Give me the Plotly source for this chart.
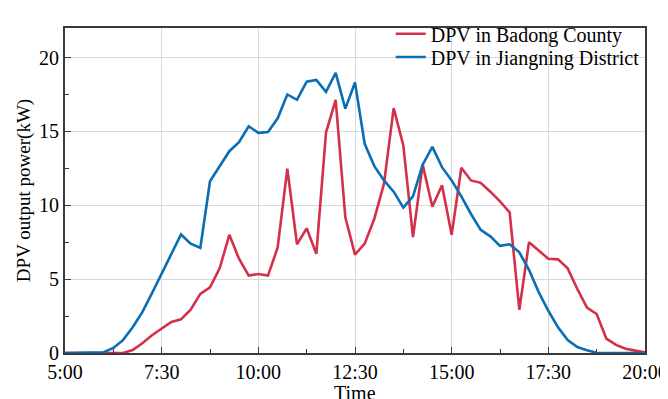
import plotly.graph_objects as go

# 15-minute samples from 5:00 to 20:00 (61 points)
hours = [5 + 0.25 * i for i in range(61)]

badong = [0, 0, 0, 0, 0, 0, 0, 0.2, 0.66, 1.2,
          1.63, 2.1, 2.28, 2.93, 4.0, 4.44, 5.73, 8.0, 6.38, 5.24,
          5.35, 5.24, 7.14, 12.48, 7.36, 8.44, 6.71, 14.92, 17.14, 9.19,
          6.66, 7.4, 9.09, 11.46, 16.58, 14.05, 7.85, 12.75, 9.9, 11.35,
          8.0, 12.54, 11.68, 11.52, 10.92, 10.27, 9.51, 2.93, 7.5, 6.92,
          6.38, 6.34, 5.73, 4.33, 3.08, 2.64, 0.98, 0.55, 0.29, 0.16,
          0.05]

jiangning = [0, 0, 0, 0, 0.05, 0.34, 0.87, 1.74, 2.77, 4.05,
             5.35, 6.66, 8.02, 7.4, 7.12, 11.63, 12.65, 13.66, 14.27, 15.35,
             14.9, 14.96, 15.89, 17.5, 17.14, 18.37, 18.48, 17.68, 18.96, 16.54,
             18.31, 14.16, 12.65, 11.68, 10.92, 9.84, 10.6, 12.75, 13.95, 12.58,
             11.68, 10.6, 9.41, 8.33, 7.9, 7.25, 7.36, 6.82, 5.63, 4.12,
             2.86, 1.74, 0.87, 0.4, 0.18, 0.02, 0, 0, 0, 0,
             0]

tick_vals = [5, 7.5, 10, 12.5, 15, 17.5, 20]
tick_text = ["5:00", "7:30", "10:00", "12:30", "15:00", "17:30", "20:00"]

FONT = "Liberation Serif"

fig = go.Figure()
fig.add_trace(go.Scatter(x=hours, y=badong, mode="lines", name="DPV in Badong County",
                         line=dict(color="#D3304A", width=2.6), legend="legend"))
fig.add_trace(go.Scatter(x=hours, y=jiangning, mode="lines", name="DPV in Jiangning District",
                         line=dict(color="#0A6EB4", width=2.6), legend="legend2"))

axis_common = dict(
    showline=True, linecolor="#3a3a3a", linewidth=1.8, mirror=True,
    ticks="inside", ticklen=6, tickwidth=1.3, tickcolor="#3a3a3a",
    showgrid=True, gridcolor="#d9d9d9", gridwidth=1,
    zeroline=False, automargin=False,
    tickfont=dict(family=FONT, size=20, color="black"),
)

fig.update_xaxes(
    range=[5, 20], tickmode="array", tickvals=tick_vals, ticktext=tick_text,
    minor=dict(ticks="inside", ticklen=4, tickwidth=1.2, tickcolor="#3a3a3a",
               tick0=5, dtick=1.25, showgrid=False),
    **axis_common,
)
fig.update_yaxes(
    range=[0, 22], tickmode="linear", tick0=0, dtick=5,
    minor=dict(ticks="inside", ticklen=4, tickwidth=1.2, tickcolor="#3a3a3a",
               tick0=0, dtick=2.5, showgrid=False),
    title=dict(text="DPV output power(kW)", font=dict(family=FONT, size=19, color="black"), standoff=3),
    **axis_common,
)

fig.add_annotation(text="Time", xref="paper", yref="paper", x=0.5, y=-0.122,
                   xanchor="center", yanchor="middle", showarrow=False,
                   font=dict(family=FONT, size=20, color="black"))

leg_common = dict(xanchor="left", yanchor="middle", bgcolor="rgba(0,0,0,0)",
                  font=dict(family=FONT, size=20, color="black"), itemwidth=30)

fig.update_layout(
    width=660, height=391,
    margin=dict(l=57, r=23, t=6, b=45.5),
    plot_bgcolor="white", paper_bgcolor="white",
    font=dict(family=FONT, color="black"),
    legend=dict(x=0.5616, y=0.9823, **leg_common),
    legend2=dict(x=0.5616, y=0.9107, **leg_common),
    showlegend=True,
)

fig.write_html("out.html")
